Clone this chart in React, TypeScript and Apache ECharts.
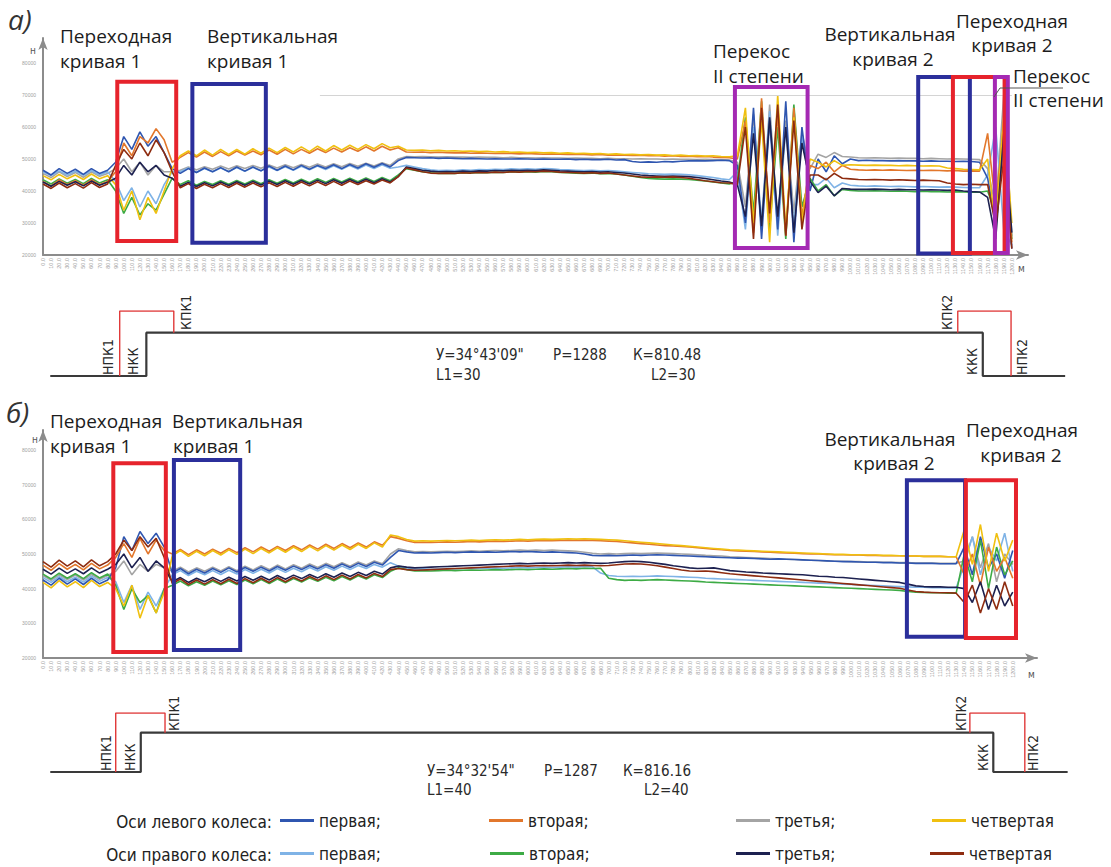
import React, { useEffect, useRef } from 'react';
import * as echarts from 'echarts';

// ---------------- DATA ----------------
const KEYS = ['L1', 'L2', 'L3', 'L4', 'R1', 'R2', 'R3', 'R4'];
const LEGEND_LABELS: Record<string, string> = {
  L1: 'первая;', L2: 'вторая;', L3: 'третья;', L4: 'четвертая',
  R1: 'первая;', R2: 'вторая;', R3: 'третья;', R4: 'четвертая',
};
const ROW_LABELS = ['Оси левого колеса:', 'Оси правого колеса:'];
const Y_TICK_LABELS = ['20000', '30000', '40000', '50000', '60000', '70000', '80000'];

// distance along the track, m (one reading every 10 m)
const distA = Array.from({ length: 121 }, (_, i) => i * 10);
const distB = Array.from({ length: 121 }, (_, i) => i * 10);

// Panel а) forces, kN
const a_L1 = [46.5,45,47,45.5,46.8,45.2,47,45.5,46.5, 49,57,53,58.5,54,57,52,47,
  45.5,47,45.8,47.2,46,47.3,46,47.5,46.2,47.5,46.3,47.8,46.5,47.8,46.6,48,46.8,48,47,48.2,47,48.3,47.2,48.5,47.4,48.6,47.5,49.5,
  50.5,50.4,50.3,50.4,50.2,50.3,50.2,50.1,50.2,50.1,50,50.1,50,50,50.1,50,49.9,50,49.9,49.9,50,49.8,49.9,49.8,49.8,49.9,49.7,49.8,49.2,49,49.1,49,49.2,49.1,49.3,49.4,49.5,49.4,49.5,49.6,49.5,
  48,30,66,25,62,28,68,24,60,40,
  50,46,51,48.5,50,49.5,49.6,49.5,49.5,49.4,49.5,49.4,49.4,49.3,49.4,49.3,49.3,49.2,49.3,49.2,49,
  44,30,56,22];
const a_L2 = [43,41.5,43.5,42,43.2,41.8,43.5,42,43, 46,55,51,57,55,59.5,56,49,
  50.5,52,50.6,52.2,50.8,52.3,51,52.5,51.2,52.5,51.3,52.8,51.5,53,51.6,53,51.8,53.2,52,53.4,52.2,53.5,52.4,53.8,52.5,54,52.8,53.5,
  52.2,52.1,52.2,52,52.1,52,51.9,52,51.8,51.9,51.8,51.7,51.8,51.7,51.6,51.7,51.6,51.5,51.6,51.5,51.4,51.5,51.4,51.3,51.4,51.2,51.3,51.2,51.1,51.2,51,51.1,50.9,51,50.8,50.9,50.7,50.8,50.6,50.5,50.4,
  50,62,27,69,30,64,26,66,32,48,
  47,49,46,48,46.8,46.6,46.5,46.6,46.5,46.6,46.5,46.4,46.5,46.4,46.5,46.4,46.3,46.4,46.2,46.3,46.2,
  58,35,62,24];
const a_L3 = [45.5,44.2,46,44.5,45.8,44.3,46,44.6,45.5, 47,50,46,49,45,48,46,46,
  46.5,47.5,46.6,47.6,46.8,47.8,46.9,47.9,47,48,47.1,48.1,47.2,48.2,47.3,48.3,47.4,48.4,47.5,48.5,47.6,48.6,47.7,48.7,47.8,48.8,48,50,
  50.8,50.7,50.8,50.7,50.6,50.7,50.6,50.6,50.5,50.6,50.5,50.5,50.4,50.5,50.4,50.4,50.3,50.4,50.3,50.3,50.2,50.3,50.2,50.2,50.1,50.2,50.1,50.1,50,50.1,50,50,49.9,50,49.9,49.9,49.8,49.9,49.8,49.8,49.7,
  49,35,64,28,67,30,62,33,58,47,
  51.5,50.5,52,50.8,50.6,50.4,50.3,50.4,50.3,50.2,50.3,50.2,50.2,50.1,50.2,50.1,50,50.1,50,49.9,49.8,
  47,35,70,26];
const a_L4 = [44.8,43.5,45.2,43.8,45,43.6,45.3,43.8,44.8, 42,34,40,31,38,33,40,47,
  51,52.5,51,52.8,51.2,53,51.4,53,51.5,53.2,51.8,53.4,52,53.6,52.2,53.8,52.3,54,52.5,54.2,52.8,54.3,53,54.5,53.2,54.8,53.5,54,
  52.8,52.7,52.8,52.6,52.7,52.5,52.6,52.4,52.5,52.3,52.4,52.2,52.3,52.1,52.2,52,52.1,51.9,52,51.8,51.9,51.7,51.8,51.6,51.7,51.5,51.6,51.4,51.5,51.3,51.4,51.2,51.3,51.1,51.2,51,51.1,50.9,51,50.8,50.7,
  51,66,30,62,24,70,28,63,30,50,
  49,47.5,49.5,48,48.2,48.1,48,48.1,48,48,47.9,48,47.9,47.8,47.9,47.8,47.2,47,46.8,46.7,46.6,
  50,28,64,30];
const a_R1 = [46,44.8,46.3,45,46.2,44.9,46.4,45,46, 43,37,41,35,40,36,42,46,
  46,47.2,45.8,47,46,47.2,46.1,47.3,46.2,47.4,46.3,47.5,46.4,47.6,46.5,47.7,46.6,47.8,46.7,47.9,46.8,48,46.9,48.1,47,48.2,47.1,47.5,
  48,47.5,47,46.6,46.4,46.5,46.4,46.6,46.5,46.7,46.6,46.8,46.7,46.9,46.8,46.9,46.8,47,46.9,46.7,46.6,46.5,46.4,46.5,46.3,46.4,46.2,46,45.8,45.6,45.4,45.3,45.2,45.3,45.2,45.1,44.8,44.5,44.2,43.8,43.5,
  46,28,60,31,65,26,60,29,57,42,
  42,44,41,42.5,41.8,41.6,41.5,41.6,41.5,41.4,41.5,41.4,41.3,41.4,41.3,41.2,41.3,41.2,41.1,41,41,
  45,60,28,23];
const a_R2 = [43.5,42.2,43.8,42.4,43.6,42.3,43.9,42.5,43.5, 40,33,38,32.5,36,34,39,44,
  42,43.2,41.8,43,42,43.2,42.1,43.3,42.2,43.4,42.3,43.5,42.4,43.6,42.5,43.7,42.6,43.8,42.7,43.9,42.8,44,42.9,44.1,43,44.2,43.2,45,
  47,46.5,46,45.7,45.5,45.6,45.5,45.7,45.6,45.8,45.7,45.9,45.8,46,45.9,46,45.9,46.1,46,45.8,45.7,45.6,45.5,45.6,45.4,45.5,45.3,45,44.6,44.2,43.9,43.8,43.7,43.8,43.7,43.6,43.4,43.1,42.8,42.5,42.2,
  43,63,33,68,28,60,25,67,35,44,
  40,42,38.5,40.5,40.2,40,40,40.1,40,39.9,40,39.9,39.8,39.9,39.8,39.8,39.7,39.8,39.7,39.6,39.6,
  40,33,55,25];
const a_R3 = [42.8,41.5,43,41.8,42.9,41.6,43.1,41.8,42.7, 44,48,45,49,46,48,45,44,
  41.5,42.7,41.4,42.6,41.6,42.8,41.7,42.9,41.8,43,41.9,43.1,42,43.2,42.1,43.3,42.2,43.4,42.3,43.5,42.4,43.6,42.5,43.7,42.6,43.8,42.8,44.5,
  47.5,47,46.5,46.2,46,46.1,46,46.2,46.1,46.3,46.2,46.4,46.3,46.5,46.4,46.5,46.4,46.6,46.5,46.3,46.2,46.1,46,46.1,45.9,46,45.8,45.6,45.3,45,44.8,44.7,44.6,44.7,44.6,44.5,44.2,43.9,43.5,43.1,42.8,
  42,32,58,29,63,32,60,27,55,43,
  39.5,41.5,38.5,40.8,40.6,40.5,40.5,40.6,40.5,40.4,40.5,40.4,40.4,40.3,40.4,40.3,40.2,40.3,40,39.8,39.7,
  38,25,58,27];
const a_R4 = [42.2,40.8,42.5,41,42.3,40.9,42.6,41.1,42.2, 48,53,50,55,51,56,52,46,
  41,42.3,40.8,42.1,41,42.3,41.1,42.4,41.2,42.5,41.3,42.6,41.4,42.7,41.5,42.8,41.6,42.9,41.7,43,41.8,43.1,42,43.2,42.2,43.4,42.5,44.5,
  47.2,46.6,46,45.6,45.5,45.6,45.5,45.7,45.6,45.8,45.7,45.9,45.8,46,45.9,46.1,46,46.2,46.1,45.9,45.8,45.7,45.6,45.7,45.5,45.6,45.3,45,44.7,44.4,44.3,44.4,44.3,44.4,44.2,44,43.6,43.2,42.9,42.6,42.5,
  42,60,25,66,33,67,26,62,28,45,
  45,43.5,45.5,44,43.8,43.6,43.5,43.6,43.5,43.4,43.5,43.4,43.3,43.4,43.3,43.2,42.5,42.2,42,42.1,42,
  42,29,50,22];

// Panel б) forces, kN
const b_L1 = [42.5,41,43,41.3,42.8,41.2,43,41.4,42.5, 46,55,51,56.5,53,56,52,
  44.5,45.8,44.3,45.6,44.5,45.8,44.7,46,44.8,46.1,45,46.2,45.1,46.4,45.3,46.5,45.5,46.7,45.7,46.9,45.9,47.1,46.1,47.3,46.4,47.6,46.8,49,
  51,50.6,50.3,50.4,50.3,50.4,50.5,50.4,50.5,50.6,50.5,50.6,50.5,50.6,50.7,50.6,50.7,50.6,50.5,50.6,50.5,50.4,50.3,50,49.6,49.5,49.6,49.5,49.6,49.7,49.6,49.7,49.8,49.7,49.6,49.5,49.4,49.3,49.2,49.1,49,48.9,48.8,48.8,
  48.7,48.6,48.5,48.6,48.5,48.4,48.3,48.2,48.1,48,47.9,47.8,47.8,47.7,47.6,47.6,47.5,47.5,47.4,
  47.4,47.3,47.3,47.3,47.2,47.2,47.2,
  52,44,55,46,50,43,51];
const b_L2 = [46.8,45.3,47.2,45.6,47,45.4,47.3,45.7,46.8, 49,53,49,54.5,50,54,51,
  50,51.3,49.8,51.2,50,51.4,50.2,51.6,50.4,51.8,50.6,52,50.8,52.2,51,52.4,51.2,52.6,51.4,52.8,51.6,53,51.8,53.2,52,53.5,52.5,55,
  54.5,53.8,53.3,53.4,53.3,53.4,53.5,53.4,53.5,53.6,53.5,53.6,53.7,53.6,53.7,53.8,53.7,53.8,53.9,53.8,53.9,54,53.9,54,53.9,53.8,53.7,53.6,53.4,53.2,53,52.8,52.6,52.4,52.3,52.2,52,51.8,51.6,51.4,51.2,51,50.9,50.8,
  50.7,50.6,50.5,50.4,50.3,50.2,50.1,50,50,49.9,49.8,49.8,49.7,49.7,49.6,49.6,49.5,49.5,49.5,
  49.4,49.4,49.3,49.3,49.3,49.2,49.2,
  44,50,41,52,45,49,43];
const b_L3 = [43.8,42.4,44,42.6,43.9,42.5,44.1,42.7,43.8, 45,48,44,47,45,47,46,
  45,46.2,44.8,46,45,46.2,45.1,46.3,45.2,46.5,45.4,46.6,45.5,46.8,45.7,46.9,45.9,47.1,46.1,47.3,46.3,47.5,46.5,47.7,46.8,48,47.2,50,
  51.5,51,50.6,50.7,50.6,50.7,50.8,50.7,50.8,50.9,50.8,50.9,51,50.9,51,51.1,51,51.1,51,51.1,51,50.9,50.8,50.5,50.2,50,50.1,50,50.1,50.2,50.1,50.2,50.3,50.2,50.1,50,49.9,49.8,49.6,49.5,49.4,49.2,49.1,49,
  48.9,48.8,48.7,48.6,48.5,48.4,48.3,48.2,48.1,48,47.9,47.9,47.8,47.8,47.7,47.7,47.6,47.6,47.5,
  47.5,47.4,47.4,47.4,47.3,47.3,47.3,
  48,55,46,53,42,50,47];
const b_L4 = [41.8,40.2,42.3,40.5,42,40.3,42.4,40.6,41.8, 40,35,41,31.5,38,33,39,
  49.5,51,49.3,50.8,49.5,51,49.7,51.2,49.9,51.4,50.1,51.6,50.3,51.8,50.5,52,50.7,52.2,50.9,52.4,51.1,52.6,51.3,52.8,51.6,53.2,52,55.5,
  55,54.2,53.7,53.8,53.7,53.8,53.9,53.8,53.9,54,53.9,54,54.1,54,54.1,54.2,54.1,54.2,54.3,54.2,54.3,54.4,54.3,54.4,54.3,54.2,54.1,54,53.8,53.6,53.4,53.2,53,52.8,52.6,52.4,52.2,52,51.8,51.6,51.4,51.2,51.1,51,
  50.9,50.8,50.7,50.6,50.5,50.4,50.3,50.2,50.1,50,49.9,49.9,49.8,49.8,49.7,49.7,49.6,49.6,49.5,
  49.4,49.4,49.3,49.3,49.3,49.2,49.2,
  57,47,58.5,45,56,48,54];
const b_R1 = [43.2,41.8,43.5,42,43.3,41.9,43.6,42.1,43.2, 42,36,41,34,39,35,40,
  44,45.2,43.8,45,44,45.2,44.1,45.3,44.2,45.5,44.4,45.6,44.5,45.8,44.7,45.9,44.9,46.1,45.1,46.3,45.3,46.5,45.5,46.7,45.8,47,46.2,47.5,
  46.5,46,45.6,45.7,45.6,45.7,45.8,45.7,45.8,45.9,45.8,45.9,46,45.9,46,46.1,46,46.1,46.2,46.1,46.2,46.3,46.2,46.4,46.3,44.5,43.8,43.6,43.5,43.6,43.5,43.6,43.7,43.6,43.5,43.4,43.3,43.2,43,42.9,42.8,42.7,42.6,42.5,
  42.4,42.3,42.2,42.1,42,41.9,41.8,41.7,41.6,41.5,41.4,41.3,41.2,41.1,41,40.9,40.8,40.7,40.6,
  40.5,40.4,40.4,40.3,40.3,40.2,40.2,
  47,55,44,52,48,56,45];
const b_R2 = [44.2,42.8,44.5,43,44.3,42.9,44.6,43.1,44.2, 41,34,40,36,38,33,40,
  41,42.2,40.8,42,41,42.2,41.1,42.3,41.2,42.5,41.4,42.6,41.5,42.8,41.7,42.9,41.9,43.1,42.1,43.3,42.3,43.5,42.5,43.7,42.8,44,43.2,45,
  46,45.5,45.1,45.2,45.1,45.2,45.3,45.2,45.3,45.4,45.3,45.4,45.5,45.4,45.5,45.6,45.5,45.6,45.7,45.6,45.7,45.8,45.7,45.9,45.8,45.9,43,42.6,42.4,42.5,42.4,42.5,42.6,42.5,42.4,42.3,42.2,42.1,41.9,41.8,41.7,41.6,41.5,41.4,
  41.3,41.2,41.1,41,40.9,40.8,40.7,40.6,40.5,40.4,40.3,40.2,40.1,40,39.9,39.8,39.7,39.6,39.5,
  39.2,39,38.9,38.8,38.8,38.7,38.7,
  50,42,54,40,52,44,48];
const b_R3 = [45.6,44.2,45.9,44.4,45.7,44.3,46,44.5,45.6, 47,50,46,49,45,48,46,
  42,43.2,41.8,43,42,43.2,42.1,43.3,42.2,43.5,42.4,43.6,42.5,43.8,42.7,43.9,42.9,44.1,43.1,44.3,43.3,44.5,43.5,44.7,43.8,45,44.2,46,
  46.5,46.2,46,46.1,46.2,46.3,46.4,46.5,46.6,46.7,46.8,46.9,47,47.1,47.2,47.3,47.2,47.3,47.4,47.3,47.4,47.5,47.4,47.5,47.4,47.3,47.4,47.6,47.8,47.9,47.8,47.6,47.3,47,46.6,46.3,46,45.8,45.9,46,45.6,45.2,45,44.8,
  44.7,44.5,44.4,44.3,44.2,44.1,44,43.8,43.6,43.5,43.3,43.2,43,42.8,42.6,42.4,42.2,42,41.8,
  41.3,40.8,40.6,40.5,40.5,40.4,40.4,
  40,36,42,34,41,35,39];
const b_R4 = [47.8,46.2,48.2,46.5,48,46.3,48.3,46.6,47.8, 50,54,51,55,52,54.5,49,
  41.5,42.8,41.2,42.5,41.3,42.6,41.4,42.7,41.5,42.9,41.7,43,41.8,43.2,42,43.3,42.2,43.5,42.4,43.7,42.6,43.9,42.8,44.1,43.1,44.4,43.5,45.5,
  45.8,45.5,45.3,45.4,45.5,45.6,45.7,45.8,45.9,46,46.1,46.2,46.3,46.4,46.5,46.6,46.5,46.6,46.7,46.6,46.7,46.8,46.7,46.8,46.7,46.6,46.7,46.9,47.1,47.2,47.1,46.9,46.6,46.2,45.8,45.4,45.1,45,45.1,44.9,44.6,44.3,44.1,43.9,
  43.7,43.5,43.3,43.1,42.9,42.7,42.5,42.3,42.1,41.9,41.7,41.5,41.3,41.1,40.9,40.7,40.5,40.3,40.1,
  39.6,39.2,39,38.9,38.8,38.8,38.7,
  36,41,33,40,34,42,35];

const PANEL_A: Record<string, number[]> = { L1: a_L1, L2: a_L2, L3: a_L3, L4: a_L4, R1: a_R1, R2: a_R2, R3: a_R3, R4: a_R4 };
const PANEL_B: Record<string, number[]> = { L1: b_L1, L2: b_L2, L3: b_L3, L4: b_L4, R1: b_R1, R2: b_R2, R3: b_R3, R4: b_R4 };

// highlighted zones: [from m, to m, low kN, high kN, kind]
const zonesA: [number, number, number, number, string][] = [
  [92, 165, 24.4, 74.1, 'red'],
  [185, 276, 23.8, 73.4, 'blue'],
  [857, 947, 22.2, 72.5, 'magenta'],
  [1084, 1148, 20.5, 75.6, 'blue'],
  [1127, 1191, 20.6, 75.6, 'red'],
  [1179, 1195, 20.6, 75.6, 'magenta'],
];
const zonesB: [number, number, number, number, string][] = [
  [87, 152, 21.7, 76.2, 'red'],
  [162, 244, 22.3, 77.1, 'blue'],
  [1069, 1141, 26.1, 71.3, 'blue'],
  [1142, 1204, 25.8, 71.3, 'red'],
];

// curvature diagrams (m, level: 0 = straight, 1 = circular curve, 1.5 = transition marker)
const schemA_black = [[9, 0], [128, 0], [128, 1], [1164, 1], [1164, 0], [1266, 0]];
const schemA_redL = [[95, 0], [95, 1.5], [162, 1.5], [162, 1]];
const schemA_redR = [[1133, 1], [1133, 1.5], [1199, 1.5], [1199, 0]];
const schemB_black = [[9, 0], [121, 0], [121, 1], [1176, 1], [1176, 0], [1268, 0]];
const schemB_redL = [[90, 0], [90, 1.5], [151, 1.5], [151, 1]];
const schemB_redR = [[1147, 1], [1147, 1.5], [1215, 1.5], [1215, 0]];

// ---------------- STYLE ----------------
const COLORS: Record<string, string> = {
  L1: '#2f56b0', L2: '#e2772c', L3: '#a4a4a4', L4: '#f0c010',
  R1: '#7fb3e6', R2: '#3dab45', R3: '#1d2150', R4: '#8e2c10',
};
const ZONE_COLORS: Record<string, string> = { red: '#e6232c', blue: '#2b2f9b', magenta: '#a429b3' };
const DRAW_ORDER = ['L3', 'R1', 'L1', 'R2', 'L2', 'L4', 'R3', 'R4'];
const NARROW = '"Liberation Sans Narrow", "Arial Narrow", "DejaVu Sans Condensed", "Liberation Sans", sans-serif';
const SANS = '"Open Sans", "Noto Sans", sans-serif';

function T(text: string, x: number, y: number, extra: any = {}) {
  return {
    type: 'text', x, y, silent: true, z: 100,
    style: { text, fontSize: 19, fontFamily: SANS, fill: '#1c1c1c', align: 'left', verticalAlign: 'middle', ...extra },
  };
}
function RT(text: string, x: number, y: number) {
  return {
    type: 'text', x, y, rotation: Math.PI / 2, silent: true, z: 100,
    style: { text, fontSize: 14, fontFamily: NARROW, fill: '#2a2a2a', align: 'left', verticalAlign: 'middle' },
  };
}
const P = { fontSize: 15, fontFamily: NARROW, fill: '#2a2a2a' };

function mainX(gridIndex: number, max: number) {
  return {
    type: 'value', gridIndex, min: 0, max, interval: 10,
    axisLine: { show: true, onZero: false, lineStyle: { color: '#8c8c8c', width: 2 }, symbol: ['none', 'arrow'], symbolSize: [7, 12] },
    axisTick: { show: false },
    splitLine: { show: false },
    axisLabel: {
      rotate: 90, fontSize: 5.5, color: '#a0a0a0', margin: 3,
      formatter: (v: number) => (v <= 1200 ? v.toFixed(1) : ''),
    },
  };
}
function mainY(gridIndex: number, max: number) {
  return {
    type: 'value', gridIndex, min: 20, max, interval: 10,
    axisLine: { show: true, onZero: false, lineStyle: { color: '#8c8c8c', width: 2 }, symbol: ['none', 'arrow'], symbolSize: [7, 12] },
    axisTick: { show: false },
    splitLine: { show: false },
    axisLabel: {
      fontSize: 5, color: '#a0a0a0', margin: 7,
      formatter: (v: number) => {
        const k = Math.round((v - 20) / 10);
        return Math.abs(v - 20 - 10 * k) < 1e-6 && Y_TICK_LABELS[k] ? Y_TICK_LABELS[k] : '';
      },
    },
  };
}

function panelSeries(panel: Record<string, number[]>, dist: number[], axis: number) {
  return DRAW_ORDER.map((k) => ({
    type: 'line', name: k, xAxisIndex: axis, yAxisIndex: axis,
    data: dist.map((d, i) => [d, panel[k][i]]),
    symbol: 'none', showSymbol: false, silent: true, z: 2,
    lineStyle: { width: 1.6, color: COLORS[k] }, itemStyle: { color: COLORS[k] },
  }));
}
function zoneSeries(zones: [number, number, number, number, string][], axis: number, extraMarkLine?: any) {
  return {
    type: 'line', name: 'zones' + axis, xAxisIndex: axis, yAxisIndex: axis, data: [], silent: true, z: 5,
    markArea: {
      silent: true, z: 6,
      data: zones.map(([x0, x1, y0, y1, kind]) => [
        { xAxis: x0, yAxis: y1, itemStyle: { color: 'rgba(0,0,0,0)', borderColor: ZONE_COLORS[kind], borderWidth: 4 } },
        { xAxis: x1, yAxis: y0 },
      ]),
    },
    ...(extraMarkLine ? { markLine: extraMarkLine } : {}),
  };
}
function schemSeries(data: number[][], axis: number, color: string, width: number) {
  return {
    type: 'line', xAxisIndex: axis, yAxisIndex: axis, data, symbol: 'none', silent: true,
    lineStyle: { color, width }, itemStyle: { color },
  };
}

const LEGEND_ROWS = [
  { y: 822, keys: ['L1', 'L2', 'L3', 'L4'], xs: [280, 489, 736, 932] },
  { y: 855, keys: ['R1', 'R2', 'R3', 'R4'], xs: [280, 490, 736, 930] },
];

export default function App() {
  const ref = useRef<HTMLDivElement>(null);
  useEffect(() => {
    if (!ref.current) return;
    const chart = echarts.init(ref.current, null, { renderer: 'svg' });

    const legends = LEGEND_ROWS.flatMap((row) =>
      row.keys.map((k, j) => ({
        data: [k], left: row.xs[j], top: row.y - 10, orient: 'horizontal', icon: 'rect',
        itemWidth: 34, itemHeight: 3, itemGap: 0, padding: 0, selectedMode: false,
        formatter: () => LEGEND_LABELS[k],
        textStyle: { fontSize: 17, color: '#222', fontFamily: NARROW },
      })),
    );

    const graphics: any[] = [
      // panel a
      T('а)', 8, 19, { fontSize: 28, fontStyle: 'italic', fill: '#333' }),
      T('Переходная', 60, 36), T('кривая 1', 60, 61),
      T('Вертикальная', 207, 36), T('кривая 1', 207, 61),
      T('Перекос', 713, 51), T('II степени', 713, 76),
      T('Вертикальная', 890, 34, { align: 'center' }), T('кривая 2', 893, 59, { align: 'center' }),
      T('Переходная', 1012, 21, { align: 'center' }), T('кривая 2', 1012, 45, { align: 'center' }),
      T('Перекос', 1013, 76), T('II степени', 1013, 100),
      { type: 'polyline', silent: true, z: 100, shape: { points: [[1063, 88], [1000, 88], [994, 97]] }, style: { stroke: '#555', lineWidth: 1, fill: null } },
      T('н', 30, 50, { fontSize: 10, fill: '#555', fontFamily: NARROW }),
      T('м', 1018, 268, { fontSize: 10, fill: '#555', fontFamily: NARROW }),
      RT('НПК1', 108, 375), RT('НКК', 133, 375), RT('КПК1', 186, 330),
      RT('КПК2', 947, 330), RT('ККК', 972, 375), RT('НПК2', 1022, 375),
      T('У=34°43\'09"', 436, 355, P),
      T('Р=1288', 553, 355, P),
      T('К=810.48', 633, 355, P),
      T('L1=30', 436, 375, P),
      T('L2=30', 651, 375, P),
      // panel b
      T('б)', 6, 412, { fontSize: 28, fontStyle: 'italic', fill: '#333' }),
      T('Переходная', 50, 421), T('кривая 1', 50, 446),
      T('Вертикальная', 172, 421), T('кривая 1', 173, 446),
      T('Вертикальная', 890, 439, { align: 'center' }), T('кривая 2', 894, 463, { align: 'center' }),
      T('Переходная', 1022, 430, { align: 'center' }), T('кривая 2', 1021, 455, { align: 'center' }),
      T('н', 32, 439, { fontSize: 10, fill: '#555', fontFamily: NARROW }),
      T('м', 1028, 674, { fontSize: 10, fill: '#555', fontFamily: NARROW }),
      RT('НПК1', 106, 771), RT('НКК', 130, 771), RT('КПК1', 174, 731),
      RT('КПК2', 961, 731), RT('ККК', 983, 771), RT('НПК2', 1033, 771),
      T('У=34°32\'54"', 427, 771, P),
      T('Р=1287', 544, 771, P),
      T('К=816.16', 623, 771, P),
      T('L1=40', 427, 790, P),
      T('L2=40', 644, 790, P),
      // legend row captions
      T(ROW_LABELS[0], 272, 822, { fontSize: 17, fontFamily: NARROW, fill: '#222', align: 'right' }),
      T(ROW_LABELS[1], 272, 855, { fontSize: 17, fontFamily: NARROW, fill: '#222', align: 'right' }),
    ];

    const option: any = {
      animation: false,
      backgroundColor: '#ffffff',
      grid: [
        { left: 43, top: 38, width: 985, height: 217 },
        { left: 43, top: 430, width: 994, height: 228 },
        { left: 43, top: 311, width: 1049.6, height: 65 },
        { left: 43, top: 713, width: 1050.5, height: 59 },
      ],
      xAxis: [
        mainX(0, 1220),
        mainX(1, 1230),
        { type: 'value', gridIndex: 2, min: 0, max: 1300, show: false },
        { type: 'value', gridIndex: 3, min: 0, max: 1300, show: false },
      ],
      yAxis: [
        mainY(0, 87.81),
        mainY(1, 85.76),
        { type: 'value', gridIndex: 2, min: 0, max: 1.5, show: false },
        { type: 'value', gridIndex: 3, min: 0, max: 1.5, show: false },
      ],
      legend: legends,
      series: [
        ...panelSeries(PANEL_A, distA, 0),
        zoneSeries(zonesA, 0, {
          silent: true, symbol: 'none', label: { show: false },
          lineStyle: { color: '#d4d4d4', width: 1, type: 'solid' },
          data: [[{ coord: [343, 70] }, { coord: [1200, 70] }]],
        }),
        ...panelSeries(PANEL_B, distB, 1),
        zoneSeries(zonesB, 1),
        schemSeries(schemA_black, 2, '#3a3a3a', 2.2),
        schemSeries(schemA_redL, 2, '#e03a3a', 1.4),
        schemSeries(schemA_redR, 2, '#e03a3a', 1.4),
        schemSeries(schemB_black, 3, '#3a3a3a', 2.2),
        schemSeries(schemB_redL, 3, '#e03a3a', 1.4),
        schemSeries(schemB_redR, 3, '#e03a3a', 1.4),
      ],
      graphic: graphics,
    };
    chart.setOption(option);
    return () => chart.dispose();
  }, []);

  return (
    <div
      ref={ref}
      style={{ position: 'absolute', left: 0, top: 0, width: 1111, height: 867, background: '#fff' }}
    />
  );
}
